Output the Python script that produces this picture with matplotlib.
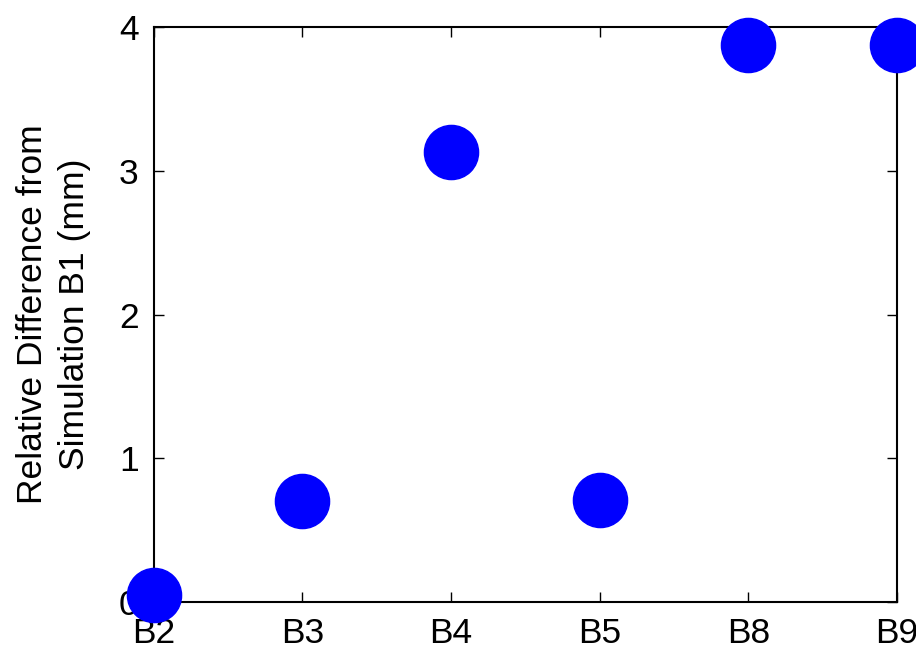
import matplotlib.pyplot as plt

plt.rcParams['font.family'] = ['Liberation Sans', 'DejaVu Sans']

# ---- DATA ----
simulations = ["B2", "B3", "B4", "B5", "B8", "B9"]
rel_diff = [0.05, 0.70, 3.13, 0.71, 3.88, 3.88]

fig = plt.figure(figsize=(9.16, 6.52), dpi=100)
ax = fig.add_axes([0.168, 0.0771, 0.811, 0.881])

xs = range(len(simulations))
ax.plot(xs, rel_diff, linestyle="none", marker="o", markersize=39,
        color="#0000ff", clip_on=False, zorder=3)

ax.set_xlim(0, len(simulations) - 1)
ax.set_ylim(0, 4)
ax.set_xticks(list(xs))
ax.set_xticklabels(simulations)
ax.set_yticks([0, 1, 2, 3, 4])

ax.tick_params(direction="in", length=7, width=1, labelsize=25.5,
               top=True, right=True, pad=11)
for s in ax.spines.values():
    s.set_linewidth(1.5)

ax.set_ylabel("Relative Difference from\nSimulation B1 (mm)", fontsize=25.5,
              labelpad=20, linespacing=1.35)

fig.savefig("out.png", dpi=100)
